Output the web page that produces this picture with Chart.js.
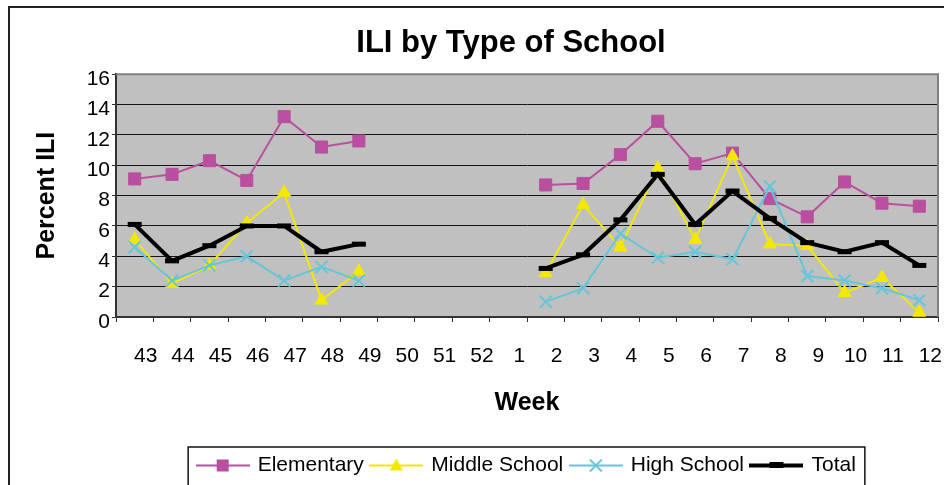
<!DOCTYPE html>
<html>
<head>
<meta charset="utf-8">
<title>ILI by Type of School</title>
<script src="https://cdn.jsdelivr.net/npm/chart.js@4.4.1/dist/chart.umd.min.js"></script>
<style>
  html, body { margin: 0; padding: 0; background: #fff; overflow: hidden; }
  .frame { position: absolute; left: 8px; top: 6px; width: 1002px; height: 500px; border: 2px solid #222; }
  canvas { display: block; }
</style>
</head>
<body>
<div class="frame"><canvas id="chart" width="1002" height="500"></canvas></div>
<script>
// week numbers, season runs from week 43 into the new year
const weeks = ['43', '44', '45', '46', '47', '48', '49', '50', '51', '52',
  '1', '2', '3', '4', '5', '6', '7', '8', '9', '10', '11', '12'];

// percent ILI, no reports for weeks 50 - 1
const elementary = [9.1, 9.4, 10.3, 9.0, 13.2, 11.2, 11.6, null, null, null,
  null, 8.7, 8.8, 10.7, 12.9, 10.1, 10.8, 7.8, 6.6, 8.9, 7.5, 7.3];
const middleSchool = [5.1, 2.2, 3.4, 6.2, 8.2, 1.1, 3.0, null, null, null,
  null, 2.9, 7.4, 4.6, 9.8, 5.1, 10.6, 4.8, 4.7, 1.6, 2.6, 0.3];
const highSchool = [4.6, 2.4, 3.4, 4.0, 2.4, 3.3, 2.4, null, null, null,
  null, 1.0, 1.9, 5.5, 3.9, 4.3, 3.8, 8.6, 2.7, 2.4, 1.9, 1.1];
const total = [6.1, 3.7, 4.7, 6.0, 6.0, 4.3, 4.8, null, null, null,
  null, 3.2, 4.1, 6.4, 9.4, 6.1, 8.3, 6.5, 4.9, 4.3, 4.9, 3.4];

const yTicks = { min: 0, max: 16, step: 2 };

const pink = '#BA4E9F';
const yellow = '#F4E800';
const cyan = '#66C6D8';
const black = '#000000';
const plotGray = '#C0C0C0';
const axisDark = '#333333';
const gridDark = '#151515';

Chart.defaults.font.family = "'Liberation Sans', Arial, sans-serif";
Chart.defaults.color = '#000';

// legend symbol: line with the marker in the middle, like the sheet legend
function legendIcon(color, width, marker) {
  const c = document.createElement('canvas');
  c.width = 54;
  c.height = 21;
  const g = c.getContext('2d');
  g.strokeStyle = color;
  g.lineWidth = width;
  g.beginPath();
  g.moveTo(0, 10.5);
  g.lineTo(54, 10.5);
  g.stroke();
  g.fillStyle = color;
  marker(g, 27, 10.5);
  return c;
}

const icons = [
  legendIcon(pink, 2, (g, x, y) => g.fillRect(x - 6, y - 6, 12, 12)),
  legendIcon(yellow, 2, (g, x, y) => {
    g.beginPath();
    g.moveTo(x, y - 7);
    g.lineTo(x + 6.5, y + 5);
    g.lineTo(x - 6.5, y + 5);
    g.closePath();
    g.fill();
  }),
  legendIcon(cyan, 2, (g, x, y) => {
    g.lineWidth = 2;
    g.beginPath();
    g.moveTo(x - 6, y - 6); g.lineTo(x + 6, y + 6);
    g.moveTo(x + 6, y - 6); g.lineTo(x - 6, y + 6);
    g.stroke();
  }),
  legendIcon(black, 4, (g, x, y) => g.fillRect(x - 7, y - 3.5, 14, 6))
];

const plotFrame = {
  id: 'plotFrame',
  beforeDraw(chart) {
    const { ctx, chartArea: a } = chart;
    ctx.save();
    ctx.fillStyle = plotGray;
    ctx.fillRect(a.left, a.top, a.right - a.left, a.bottom - a.top);
    ctx.restore();
  },
  beforeDatasetsDraw(chart) {
    const { ctx, chartArea: a } = chart;
    ctx.save();
    ctx.strokeStyle = '#808080';
    ctx.lineWidth = 2;
    ctx.beginPath();
    ctx.moveTo(a.left, a.top);
    ctx.lineTo(a.right, a.top);
    ctx.lineTo(a.right, a.bottom);
    ctx.stroke();
    ctx.restore();
  },
  afterDraw(chart) {
    const boxes = chart.legend.legendHitBoxes;
    if (!boxes || !boxes.length) return;
    const first = boxes[0];
    const last = boxes[boxes.length - 1];
    const cy = first.top + first.height / 2;
    const ctx = chart.ctx;
    ctx.save();
    ctx.strokeStyle = '#111';
    ctx.lineWidth = 1.5;
    ctx.strokeRect(first.left - 10, cy - 18.5, last.left + last.width + 19 - first.left, 45);
    ctx.restore();
  }
};

new Chart(document.getElementById('chart'), {
  type: 'line',
  data: {
    labels: weeks,
    datasets: [
      {
        label: 'Elementary', data: elementary, order: 4,
        borderColor: pink, borderWidth: 2, backgroundColor: pink,
        pointStyle: 'rect', pointRadius: 8.5, pointBorderWidth: 1
      },
      {
        label: 'Middle School', data: middleSchool, order: 3,
        borderColor: yellow, borderWidth: 2, backgroundColor: yellow,
        pointStyle: 'triangle', pointRadius: 7.5, pointBorderWidth: 1
      },
      {
        label: 'High School', data: highSchool, order: 2,
        borderColor: cyan, borderWidth: 2, backgroundColor: cyan,
        pointStyle: 'crossRot', pointRadius: 8.5, pointBorderWidth: 2
      },
      {
        label: 'Total', data: total, order: 1,
        borderColor: black, borderWidth: 4, backgroundColor: black,
        pointStyle: 'line', pointRadius: 7, pointBorderWidth: 5
      }
    ]
  },
  options: {
    responsive: false,
    animation: false,
    spanGaps: false,
    elements: { line: { tension: 0 } },
    datasets: { line: { clip: false } },
    layout: { padding: { left: 0, right: 0, top: 0, bottom: 22 } },
    plugins: {
      title: {
        display: true,
        text: 'ILI by Type of School',
        color: '#000',
        font: { size: 31, weight: 'bold' },
        padding: { top: 17, bottom: 12 }
      },
      legend: {
        position: 'bottom',
        fullSize: false,
        labels: {
          usePointStyle: true,
          pointStyleWidth: 49,
          padding: 8,
          color: '#000',
          font: { size: 21 },
          sort: (a, b) => a.datasetIndex - b.datasetIndex,
          generateLabels: (chart) =>
            Chart.defaults.plugins.legend.labels.generateLabels(chart)
              .map(item => ({ ...item, pointStyle: icons[item.datasetIndex] }))
        }
      },
      tooltip: { enabled: false }
    },
    scales: {
      x: {
        offset: true,
        grid: { offset: true, drawOnChartArea: false, drawTicks: true, tickLength: 5, color: axisDark },
        border: { color: axisDark, width: 2 },
        ticks: { autoSkip: false, maxRotation: 0, padding: 22, labelOffset: 11, color: '#000', font: { size: 21 } },
        title: {
          display: true, text: 'Week', color: '#000',
          font: { size: 25, weight: 'bold' }, padding: { top: 18, bottom: 29 }
        },
        afterFit: (s) => { s.height = 130; }
      },
      y: {
        min: yTicks.min,
        max: yTicks.max,
        grid: { color: gridDark, tickColor: axisDark, tickLength: 4 },
        border: { color: axisDark, width: 2 },
        ticks: { stepSize: yTicks.step, padding: 2, labelOffset: 5, color: '#000', font: { size: 21 } },
        title: {
          display: true, text: 'Percent ILI', color: '#000',
          font: { size: 25, weight: 'bold' }, padding: { top: 22, bottom: 0 }
        },
        afterFit: (s) => { s.width = 106; }
      },
      // empty room on the right so the title centres like the original sheet
      spacer: {
        type: 'linear', axis: 'y', position: 'right',
        grid: { display: false }, border: { display: false }, ticks: { display: false },
        afterFit: (s) => { s.width = 74; }
      }
    }
  },
  plugins: [plotFrame]
});
</script>
</body>
</html>
